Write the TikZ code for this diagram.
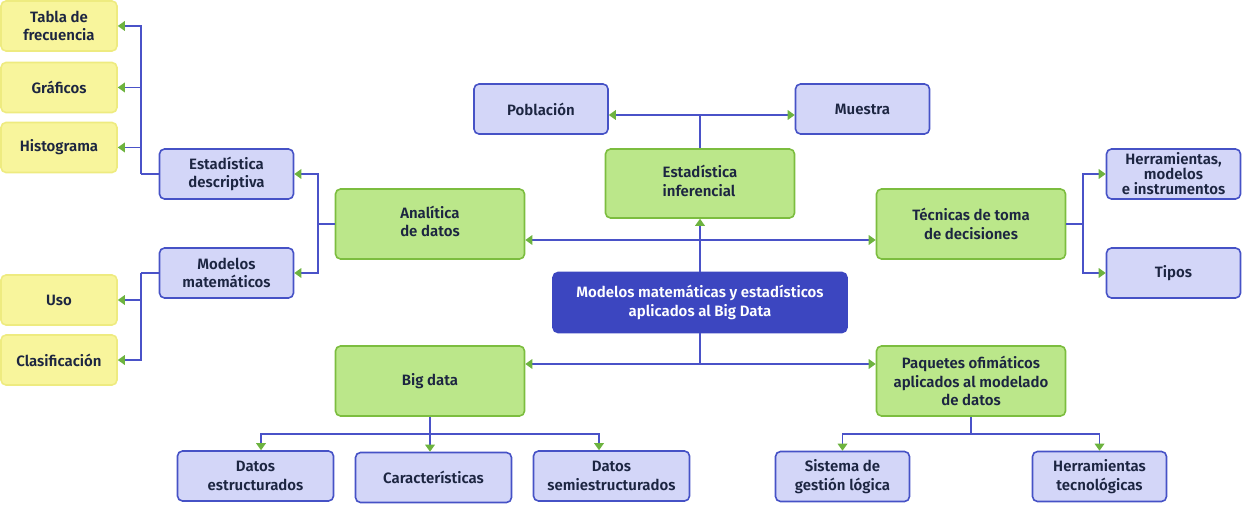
\documentclass[tikz,border=0pt]{standalone}
\usepackage{fontspec}
\setmainfont{Fira Sans}[UprightFont={* Medium},BoldFont={* SemiBold}]
\usetikzlibrary{arrows.meta}
\definecolor{ybg}{HTML}{F8F59C}
\definecolor{ybd}{HTML}{EEEB80}
\definecolor{bbg}{HTML}{D3D6F8}
\definecolor{bbd}{HTML}{4652C6}
\definecolor{gbg}{HTML}{BBE78A}
\definecolor{gbd}{HTML}{7CBD3F}
\definecolor{cbg}{HTML}{3C46C0}
\definecolor{txt}{HTML}{1C2541}
\definecolor{lin}{HTML}{4A52C8}
\definecolor{arrg}{HTML}{6DB33F}
\begin{document}
\begin{tikzpicture}[x=1pt,y=-1pt,
  base/.style={rounded corners=5pt, line width=1.6pt, align=center, text=txt,
    font=\bfseries\fontsize{15}{18.5}\selectfont, inner sep=0pt},
  ybox/.style={base, fill=ybg, draw=ybd, minimum width=116pt, minimum height=50pt},
  bbox/.style={base, fill=bbg, draw=bbd, minimum width=134pt, minimum height=50pt},
  wbox/.style={bbox, minimum width=156pt},
  gbox/.style={base, fill=gbg, draw=gbd, minimum width=189pt, minimum height=70pt},
  cbox/.style={base, fill=cbg, draw=cbg, text=white, font=\bfseries\fontsize{15}{18.5}\selectfont,
    minimum width=294pt, minimum height=60pt},
  conn/.style={draw=lin, line width=1.8pt},
  arrw/.style={conn, -{Triangle[length=7pt,width=10pt,color=arrg,line width=0pt]}}
]
\useasboundingbox (0,0) rectangle (1242,505);

% yellow
\node[ybox] (tabla) at (59,26) {Tabla de\\frecuencia};
\node[ybox] (graf) at (59,87.5) {Gráficos};
\node[ybox] (hist) at (59,147.5) {Histograma};
\node[ybox] (uso) at (59,300) {Uso};
\node[ybox] (clas) at (59,360) {Clasificación};

% blue left
\node[bbox] (desc) at (226.5,174) {Estadística\\descriptiva};
\node[bbox] (modm) at (226.5,273) {Modelos\\matemáticos};

% green
\node[gbox] (anal) at (430,224) {\begin{tabular}{@{}l@{}}Analítica\\de datos\end{tabular}};
\node[gbox] (big) at (430,381) {Big data};
\node[gbox, minimum height=69pt] (infer) at (700,183.5) {\begin{tabular}{@{}l@{}}Estadística\\inferencial\end{tabular}};
\node[gbox] (tec) at (971,224) {Técnicas de toma\\de decisiones};
\node[gbox] (paq) at (971,381) {Paquetes ofimáticos\\aplicados al modelado\\de datos};

% blue top
\node[bbox] (pob) at (541,109) {Población};
\node[bbox] (mue) at (862.5,109) {Muestra};

% central
\node[cbox] (cen) at (700,302.5) {Modelos matemáticas y estadísticos\\aplicados al Big Data};

% blue right
\node[bbox, font=\bfseries\fontsize{15}{15}\selectfont] (herr) at (1173.5,174) {Herramientas,\\modelos\\e instrumentos};
\node[bbox] (tipos) at (1173.5,273) {Tipos};

% bottom
\node[wbox] (dest) at (255.5,476) {Datos\\estructurados};
\node[wbox] (car) at (433.5,477.5) {Características};
\node[wbox] (dsem) at (611.5,476) {Datos\\semiestructurados};
\node[bbox] (sis) at (842.5,476.5) {Sistema de\\gestión lógica};
\node[bbox] (htec) at (1099.5,476.5) {Herramientas\\tecnológicas};

% junction coordinates
\coordinate (jd) at (141,174);
\coordinate (jm) at (141,273);
\coordinate (ja) at (318,224);
\coordinate (jt) at (1083,224);
\coordinate (jtop) at (700,115);
\coordinate (jmid) at (700,240);
\coordinate (jbot) at (700,364);
\coordinate (jbig) at (430,434);
\coordinate (jpaq) at (971,434);

% descriptiva
\draw[conn] (desc.west) -- (jd);
\draw[arrw] (jd) |- (tabla.east);
\draw[arrw] (jd) |- (graf.east);
\draw[arrw] (jd) |- (hist.east);
% modelos matematicos
\draw[conn] (modm.west) -- (jm);
\draw[arrw] (jm) |- (uso.east);
\draw[arrw] (jm) |- (clas.east);
% analitica
\draw[conn] (anal.west) -- (ja);
\draw[arrw] (ja) |- (desc.east);
\draw[arrw] (ja) |- (modm.east);
% tecnicas
\draw[conn] (tec.east) -- (jt);
\draw[arrw] (jt) |- (herr.west);
\draw[arrw] (jt) |- (tipos.west);
% inferencial
\draw[conn] (infer.north) -- (jtop);
\draw[arrw] (jtop) -- (jtop -| pob.east);
\draw[arrw] (jtop) -- (jtop -| mue.west);
% central up
\draw[arrw] (cen.north) -- (infer.south);
\draw[arrw] (jmid) -- (jmid -| anal.east);
\draw[arrw] (jmid) -- (jmid -| tec.west);
% central down
\draw[conn] (cen.south) -- (jbot);
\draw[arrw] (jbot) -- (jbot -| big.east);
\draw[arrw] (jbot) -- (jbot -| paq.west);
% big data
\draw[conn] (big.south) -- (jbig);
\draw[arrw] (jbig) -| (261,0 |- dest.north);
\draw[arrw] (jbig) -- (car.north -| jbig);
\draw[arrw] (jbig) -| (599,0 |- dsem.north);
% paquetes
\draw[conn] (paq.south) -- (jpaq);
\draw[arrw] (jpaq) -| (sis.north);
\draw[arrw] (jpaq) -| (htec.north);
\end{tikzpicture}
\end{document}
